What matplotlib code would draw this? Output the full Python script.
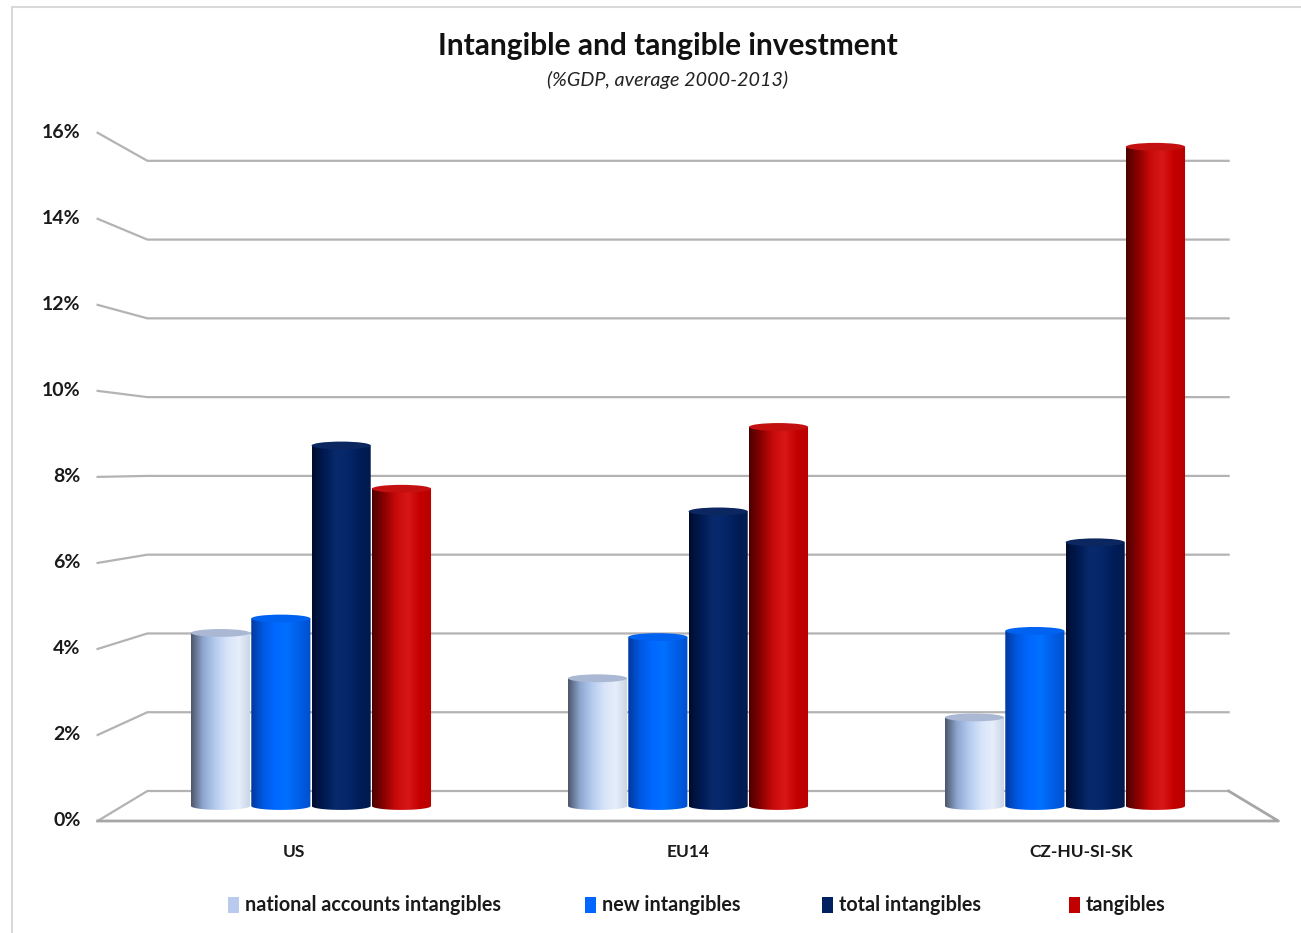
import numpy as np
import matplotlib
matplotlib.use("Agg")
import matplotlib.pyplot as plt
from matplotlib.path import Path
from matplotlib.patches import PathPatch, Ellipse, Rectangle
from matplotlib.colors import LinearSegmentedColormap

# ==================== DATA ====================
categories = ["US", "EU14", "CZ-HU-SI-SK"]
series_names = ["national accounts intangibles", "new intangibles",
                "total intangibles", "tangibles"]
national_accounts = [4.2, 3.1, 2.15]
new_intangibles = [4.55, 4.1, 4.25]
total_intangibles = [8.75, 7.15, 6.4]
tangibles = [7.7, 9.2, 16.0]
y_ticks = [0, 2, 4, 6, 8, 10, 12, 14, 16]
y_tick_labels = ["0%", "2%", "4%", "6%", "8%", "10%", "12%", "14%", "16%"]

values = [national_accounts, new_intangibles, total_intangibles, tangibles]

# gradient stops (left -> right) for each cylinder series
gradients = [
    ["#4c566a", "#8ea6cf", "#b4cbf0", "#d6e3f8", "#e6eefb", "#c9d3e2"],
    ["#0038a0", "#0058e0", "#0068ff", "#0070ff", "#005ee8", "#0050cc"],
    ["#000c2e", "#001a52", "#082a6c", "#06266a", "#001d58", "#001a4e"],
    ["#4a0000", "#8a0000", "#c80a0a", "#d81818", "#c40000", "#b80000"],
]
top_colors = ["#aab8d4", "#0062f0", "#0c2660", "#c41010"]
legend_colors = ["#b8cbed", "#0066ff", "#002060", "#c00000"]

# ==================== GEOMETRY ====================
# bars sit on the mid plane (depth 0); walls at depth +1 (back), -1 (front)
CX, CY = 1.0, 8.27          # vanishing centre in data units
PERSP = 0.044
X_LEFT, X_RIGHT = -0.5, 2.5
BAR_W = 0.16
ELL_H = 0.19                # full height of cylinder end ellipses (data units)


def proj(x, v, d):
    s = 1 - PERSP * d
    return CX + (x - CX) * s, CY + (v - CY) * s


fig = plt.figure(figsize=(13.01, 9.33), dpi=100)
ax = fig.add_axes([0, 0, 1, 1])
ax.set_axis_off()

# frame around the chart
fig.patches.append(Rectangle((12 / 1301, -0.01), 1.02, 1 - 7 / 933 + 0.01,
                             transform=fig.transFigure, fill=False,
                             edgecolor="#d9d9d9", linewidth=1.5))

grid_col = "#b3b3b3"
for v in y_ticks:
    x0, y0 = proj(X_LEFT, v, -1)
    x1, y1 = proj(X_LEFT, v, 1)
    x2, y2 = proj(X_RIGHT, v, 1)
    ax.plot([x0, x1, x2], [y0, y1, y2], color=grid_col, lw=1.6,
            solid_joinstyle="miter", zorder=1)

# floor front edge and right edge
fx0, fy0 = proj(X_LEFT, 0, -1)
fx1, fy1 = proj(X_RIGHT, 0, -1)
bx1, by1 = proj(X_RIGHT, 0, 1)
ax.plot([fx0, fx1, bx1], [fy0, fy1, by1], color="#a6a6a6", lw=2.0, zorder=1)

# tick labels on the front plane
for v, lab in zip(y_ticks, y_tick_labels):
    x, y = proj(X_LEFT, v, -1)
    ax.text(x - 0.045, y, lab, ha="right", va="center", fontsize=14,
            fontweight="bold", family="Lato", color="#1a1a1a")

# ==================== CYLINDERS ====================
n_series = len(values)
for j, (vals, stops, topc) in enumerate(zip(values, gradients, top_colors)):
    cmap = LinearSegmentedColormap.from_list(f"g{j}", stops)
    grad = np.linspace(0, 1, 256)[None, :]
    for i, v in enumerate(vals):
        xc = i + (j - (n_series - 1) / 2) * BAR_W
        r = BAR_W / 2 * 0.98
        t = np.linspace(np.pi, 2 * np.pi, 60)
        arc_x = xc + r * np.cos(t)
        arc_y = ELL_H / 2 * np.sin(t)
        verts = ([(xc - r, v)] + list(zip(arc_x, arc_y)) + [(xc + r, v), (xc - r, v)])
        codes = [Path.MOVETO] + [Path.LINETO] * (len(verts) - 2) + [Path.CLOSEPOLY]
        body = PathPatch(Path(verts, codes), facecolor="none", edgecolor="none")
        ax.add_patch(body)
        im = ax.imshow(grad, cmap=cmap, extent=[xc - r, xc + r, -ELL_H, v],
                       aspect="auto", interpolation="bicubic", zorder=2 + j * 0.01)
        im.set_clip_path(body)
        top = Ellipse((xc, v), 2 * r, ELL_H, facecolor=topc, edgecolor="none",
                      zorder=2.5 + j * 0.01)
        ax.add_patch(top)

# category labels on the front plane
for i, cat in enumerate(categories):
    x, y = proj(i, 0, -1)
    ax.text(x, y - 0.75, cat, ha="center", va="center", fontsize=12.5,
            fontweight="bold", family="Lato", color="#1a1a1a")

ax.set_xlim(-311 / 377, (1301 - 311) / 377)
ax.set_ylim((806 - 933) / 41.2, 806 / 41.2)

# ==================== TITLES ====================
fig.text(0.513, 1 - 46 / 933, "Intangible and tangible investment", ha="center",
         va="center", fontsize=21.5, fontweight="bold", family="Lato", color="#111111")
fig.text(0.513, 1 - 80 / 933, "(%GDP, average 2000-2013)", ha="center",
         va="center", fontsize=14.2, style="italic", family="Lato", color="#222222")

# ==================== LEGEND ====================
leg_x = [228, 585, 822, 1069]
for name, col, lx in zip(series_names, legend_colors, leg_x):
    fig.patches.append(Rectangle((lx / 1301, 1 - 913 / 933), 11 / 1301, 16 / 933,
                                 transform=fig.transFigure, facecolor=col,
                                 edgecolor="none"))
    fig.text((lx + 17) / 1301, 1 - 905 / 933, name, ha="left", va="center",
             fontsize=14.2, fontweight="bold", family="Lato", color="#1a1a1a")

plt.savefig("out.png", dpi=100)
